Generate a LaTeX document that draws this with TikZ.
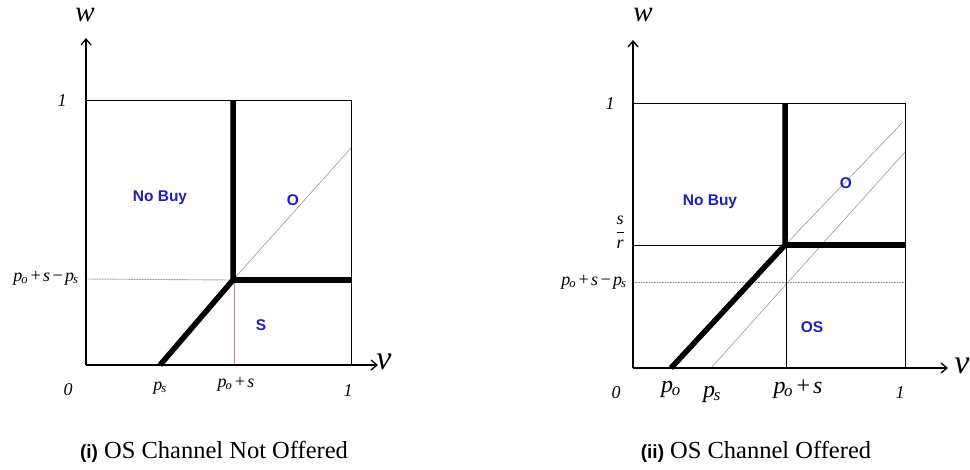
\documentclass[tikz,border=0pt]{standalone}
\usepackage{fontspec}
\setmainfont{Liberation Serif}
\newfontfamily\lsans{Liberation Sans}
\usetikzlibrary{arrows.meta}
\definecolor{regblue}{RGB}{30,30,190}
\definecolor{guidegray}{RGB}{150,150,150}
\definecolor{pinkred}{RGB}{235,120,120}
\newcommand\ip[2]{\textit{#1}\textsubscript{\kern-0.08em\textit{#2}}}
\newcommand\opsp{\kern0.08em}
\begin{document}
\begin{tikzpicture}[x=1pt,y=-1pt,
  frame/.style={draw=black,line width=0.8pt},
  axis/.style={line width=1.3pt,-{Straight Barb[length=6pt,width=10pt,line width=1.3pt]}},
  bound/.style={line width=5.5pt},
  guide/.style={line width=0.6pt,draw=guidegray},
  dotguide/.style={line width=0.9pt,draw=guidegray,dash pattern=on 1pt off 0.6pt},
  fine/.style={line width=0.7pt,draw=black},
  region/.style={text=regblue,font=\lsans\bfseries\fontsize{15.5}{15.5}\selectfont,inner sep=0pt},
  lab/.style={font=\fontsize{18}{18}\selectfont\itshape,inner sep=0pt},
  biglab/.style={font=\fontsize{24}{24}\selectfont\itshape,inner sep=0pt},
  axlab/.style={font=\fontsize{29}{29}\selectfont\itshape,inner sep=0pt},
  captxt/.style={font=\fontsize{24.5}{24.5}\selectfont,inner sep=0pt}
]
\path[use as bounding box] (0,0) rectangle (970,469);

% ---------- panel (i) ----------
\coordinate (a0) at (86,365);
\coordinate (atop) at (86,38);
\coordinate (aright) at (378,365);
\coordinate (aTL) at (86,100);
\coordinate (aBR) at (351,365);
\coordinate (aK) at (233,280);
\coordinate (aKtop) at (233,100);
\coordinate (aKright) at (351,280);
\coordinate (aPs) at (160,365);
\coordinate (aDiag) at (351,148);
\coordinate (aLeftK) at (86,279);
\coordinate (aKb) at (234,281);
\coordinate (aKbot) at (234,365);

\draw[frame] (aTL) rectangle (aBR);
\draw[dotguide] (aLeftK) -- (aK);
\draw[guide] (aK) -- (aDiag);
\draw[line width=0.6pt,draw=pinkred] (aKb) -- (aKbot);
\draw[axis] (a0) -- (atop);
\draw[axis] (a0) -- (aright);
\draw[bound] (aPs) -- (aK) -- (aKtop);
\draw[bound] (aK) -- (aKright);

\node[axlab] (aw) at (85,15) {w};
\node[axlab,font=\fontsize{34}{34}\selectfont\itshape] (av) at (384,362) {v};
\node[lab] (a1y) at (62,101) {1};
\node[lab] (a0l) at (68,390) {0};
\node[lab] (apsl) at (160,388) {\ip{p}{s}};
\node[lab] (apos) at (236,384) {\ip{p}{o}\opsp+\opsp s};
\node[lab] (a1x) at (348,391) {1};
\node[lab] (aposps) at (46,278) {\ip{p}{o}\opsp+\opsp s\opsp−\opsp\ip{p}{s}};
\node[region] (anb) at (160,198) {No Buy};
\node[region] (aO) at (293,200) {O};
\node[region] (aS) at (261,325) {S};
\node[captxt] (acap) at (214,452) {{\lsans\bfseries\fontsize{19}{19}\selectfont (i)} OS Channel Not Offered};

% ---------- panel (ii) ----------
\coordinate (b0) at (633,368);
\coordinate (btop) at (633,40);
\coordinate (bright) at (948,368);
\coordinate (bTL) at (633,103);
\coordinate (bBR) at (905,368);
\coordinate (bK) at (785,245);
\coordinate (bKtop) at (785,103);
\coordinate (bKright) at (905,245);
\coordinate (bPo) at (671,368);
\coordinate (bLeftK) at (633,245);
\coordinate (bKv) at (786,245);
\coordinate (bKbot) at (786,368);
\coordinate (bL1) at (633,282);
\coordinate (bR1) at (905,282);
\coordinate (bPs) at (711,368);
\coordinate (bD1) at (905,152);
\coordinate (bD2) at (903,122);

\draw[frame] (bTL) rectangle (bBR);
\draw[dotguide] (bL1) -- (bR1);
\draw[guide] (bPs) -- (bD1);
\draw[guide] (bK) -- (bD2);
\draw[fine] (bLeftK) -- (bK);
\draw[fine] (bKv) -- (bKbot);
\draw[axis] (b0) -- (btop);
\draw[axis] (b0) -- (bright);
\draw[bound] (bPo) -- (bK) -- (bKtop);
\draw[bound] (bK) -- (bKright);

\node[axlab] (bw) at (643,15) {w};
\node[axlab,font=\fontsize{34}{34}\selectfont\itshape] (bv) at (962,366) {v};
\node[lab] (b1y) at (610,104) {1};
\node[lab] (bsr) at (620,232) {$\displaystyle\frac{\textit{s}}{\textit{r}}$};
\node[lab] (bposps) at (594,282) {\ip{p}{o}\opsp+\opsp s\opsp−\opsp\ip{p}{s}};
\node[lab] (b0l) at (616,393) {0};
\node[biglab] (bpol) at (671,389) {\ip{p}{o}};
\node[biglab] (bpsl) at (712,394) {\ip{p}{s}};
\node[biglab] (bpos) at (798,389) {\ip{p}{o}\opsp+\opsp s};
\node[lab] (b1x) at (900,393) {1};
\node[region] (bnb) at (710,202) {No Buy};
\node[region] (bO) at (846,183) {O};
\node[region] (bOS) at (812,327) {OS};
\node[captxt] (bcap) at (756,452) {{\lsans\bfseries\fontsize{19}{19}\selectfont (ii)} OS Channel Offered};
\end{tikzpicture}
\end{document}
